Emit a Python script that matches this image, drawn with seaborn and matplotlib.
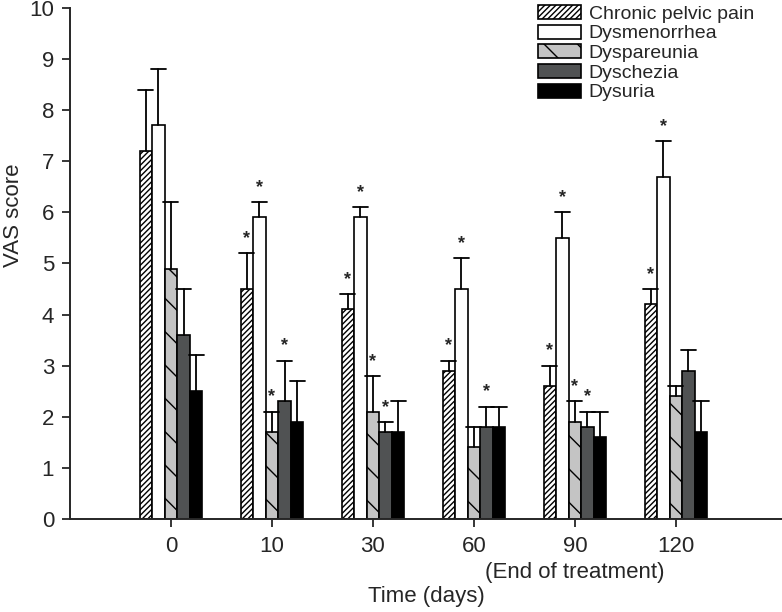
import matplotlib
matplotlib.use('Agg')
import matplotlib.pyplot as plt
import seaborn as sns
import pandas as pd

# 数据
days = ['0', '10', '30', '60', '90', '120']
tick_labels = ['0', '10', '30', '60', '90', '120']
end_note = '(End of treatment)'
end_day = '90'
symptoms = ['Chronic pelvic pain', 'Dysmenorrhea', 'Dyspareunia', 'Dyschezia', 'Dysuria']

cpp_mean = [7.2, 4.5, 4.1, 2.9, 2.6, 4.2]
cpp_err = [1.2, 0.7, 0.3, 0.2, 0.4, 0.3]
dysmen_mean = [7.7, 5.9, 5.9, 4.5, 5.5, 6.7]
dysmen_err = [1.1, 0.3, 0.2, 0.6, 0.5, 0.7]
dyspar_mean = [4.9, 1.7, 2.1, 1.4, 1.9, 2.4]
dyspar_err = [1.3, 0.4, 0.7, 0.4, 0.4, 0.2]
dysch_mean = [3.6, 2.3, 1.7, 1.8, 1.8, 2.9]
dysch_err = [0.9, 0.8, 0.2, 0.4, 0.3, 0.4]
dysuria_mean = [2.5, 1.9, 1.7, 1.8, 1.6, 1.7]
dysuria_err = [0.7, 0.8, 0.6, 0.4, 0.5, 0.6]

# 显著性标记 (1 = *)
cpp_sig = [0, 1, 1, 1, 1, 1]
dysmen_sig = [0, 1, 1, 1, 1, 1]
dyspar_sig = [0, 1, 1, 0, 1, 0]
dysch_sig = [0, 1, 1, 1, 1, 0]
dysuria_sig = [0, 0, 0, 0, 0, 0]

means = [cpp_mean, dysmen_mean, dyspar_mean, dysch_mean, dysuria_mean]
errs = [cpp_err, dysmen_err, dyspar_err, dysch_err, dysuria_err]
sigs = [cpp_sig, dysmen_sig, dyspar_sig, dysch_sig, dysuria_sig]

colors = ['white', 'white', '#c4c4c4', '#4f5254', 'black']
hatches = ['//////', '', '\\', '', '']

rows = []
for s, m in zip(symptoms, means):
    for d, v in zip(days, m):
        rows.append({'day': d, 'symptom': s, 'score': v})
df = pd.DataFrame(rows)

sns.set_style('ticks')
plt.rcParams['font.family'] = ['Liberation Sans', 'DejaVu Sans']
plt.rcParams['hatch.linewidth'] = 1.0

fig = plt.figure(figsize=(7.82, 6.12), dpi=100)
ax = fig.add_axes([0.0895, 0.152, 0.9105, 0.835])

sns.barplot(data=df, x='day', y='score', hue='symptom', order=days, hue_order=symptoms,
            palette=colors, width=0.62, edgecolor='black', linewidth=1.2,
            errorbar=None, ax=ax)

for i, cont in enumerate(ax.containers):
    for j, bar in enumerate(cont.patches):
        bar.set_hatch(hatches[i])
        bar.set_edgecolor('black')
        w = bar.get_width()
        cx = bar.get_x() + w / 2
        top = means[i][j] + errs[i][j]
        ax.plot([cx, cx], [means[i][j], top], color='black', lw=1.3, zorder=1)
        ax.plot([cx - 0.6 * w, cx + 0.6 * w], [top, top], color='black', lw=1.3, zorder=1)
        if sigs[i][j]:
            ax.text(cx, top + 0.12, '*', ha='center', va='bottom', fontsize=13,
                    fontweight='bold')

handles = [c.patches[0] for c in ax.containers]
ax.legend(handles, symptoms, loc='upper left', bbox_to_anchor=(538 / 782, 1 - 5 / 612),
          bbox_transform=fig.transFigure, frameon=False, fontsize=14,
          handlelength=2.2, handleheight=0.72, labelspacing=0.1,
          handletextpad=0.4, borderpad=0, borderaxespad=0)

ax.set_ylim(0, 10)
ax.set_xlim(-1.0, 6.05)
ax.set_yticks(range(0, 11))
ax.set_xticks(range(len(days)))
ax.set_xticklabels(tick_labels)
ax.tick_params(labelsize=16, width=1.3, length=5.5)
ax.tick_params(axis='x', pad=7)
ax.tick_params(axis='y', pad=6)

# 第二行标注 (治疗结束)
ax.text(days.index(end_day), -0.084, end_note, transform=ax.get_xaxis_transform(),
        ha='center', va='top', fontsize=16)

ax.set_xlabel('Time (days)', fontsize=16, labelpad=2)
ax.set_ylabel('VAS score', fontsize=16)
ax.xaxis.set_label_coords(0.5, -0.132)
ax.yaxis.set_label_coords(-0.065, 0.595)
for sp in ['top', 'right']:
    ax.spines[sp].set_visible(False)
for sp in ['left', 'bottom']:
    ax.spines[sp].set_linewidth(1.4)

fig.savefig('out.png', dpi=100)
